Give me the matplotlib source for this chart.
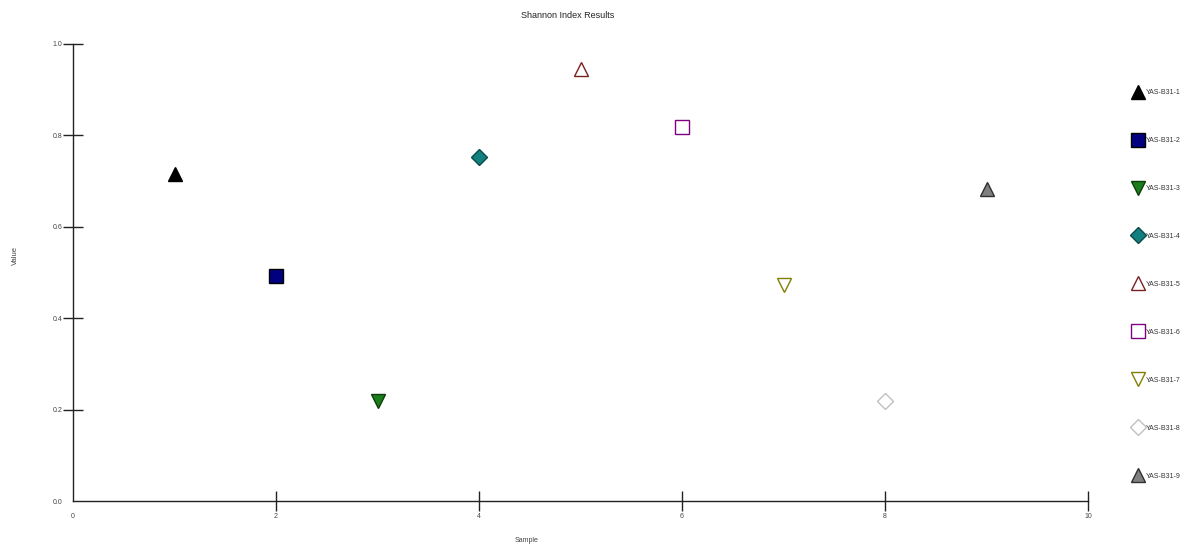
import matplotlib
matplotlib.use("Agg")
import matplotlib.pyplot as plt

plt.rcParams['font.family'] = ['Liberation Sans', 'DejaVu Sans']

samples = ["YAS-B31-1", "YAS-B31-2", "YAS-B31-3", "YAS-B31-4", "YAS-B31-5",
           "YAS-B31-6", "YAS-B31-7", "YAS-B31-8", "YAS-B31-9"]
sample_index = [1, 2, 3, 4, 5, 6, 7, 8, 9]
shannon = [0.715, 0.492, 0.219, 0.753, 0.945, 0.818, 0.473, 0.219, 0.683]

markers = ['^', 's', 'v', 'D', '^', 's', 'v', 'D', '^']
face_colors = ['#000000', '#000080', '#1a7f1a', '#138080', 'white',
               'white', 'white', 'white', '#808080']
edge_colors = ['#000000', '#000000', '#0d3d0d', '#0a4a4a', '#7a2020',
               '#800080', '#808000', '#c0c0c0', '#303030']
marker_sizes = [10, 10, 10, 8, 10, 10, 10, 8, 10]

fig = plt.figure(figsize=(11.92, 5.45), dpi=100)
ax = fig.add_axes([73 / 1192, 1 - 501 / 545, (1088 - 73) / 1192, (501 - 44) / 545])

for name, x, y, m, fc, ec, ms in zip(samples, sample_index, shannon, markers,
                                     face_colors, edge_colors, marker_sizes):
    ax.plot([x], [y], linestyle='none', marker=m, markersize=ms,
            markerfacecolor=fc, markeredgecolor=ec, markeredgewidth=1.0,
            label=name)

ax.set_xlim(0, 10)
ax.set_ylim(0, 1.0)
ax.set_xticks([0, 2, 4, 6, 8, 10])
ax.set_yticks([0.0, 0.2, 0.4, 0.6, 0.8, 1.0])
ax.set_yticklabels(['0.0', '0.2', '0.4', '0.6', '0.8', '1.0'])
for s in ('top', 'right'):
    ax.spines[s].set_visible(False)
for s in ('left', 'bottom'):
    ax.spines[s].set_linewidth(1.0)
    ax.spines[s].set_color('#222222')
ax.tick_params(axis='both', direction='inout', length=15, width=1.0,
               color='#222222', labelsize=5, labelcolor='#444444')
ax.tick_params(axis='x', pad=1)
ax.tick_params(axis='y', pad=0)

# no tick marks at the origin, only the labels
for tick in (ax.xaxis.get_major_ticks()[0], ax.yaxis.get_major_ticks()[0]):
    tick.tick1line.set_visible(False)

fig.text(568 / 1192, 1 - 15 / 545, "Shannon Index Results", ha='center',
         va='center', fontsize=6.5, color='#222222')
fig.text(15 / 1192, 1 - 255 / 545, "Value", ha='center', va='center',
         rotation=90, fontsize=5.5, color='#444444')
fig.text(527 / 1192, 1 - 541 / 545, "Sample", ha='center', va='center',
         fontsize=5, color='#444444')

ax.legend(loc='upper left', bbox_to_anchor=(1135 / 1192, 1 - 89 / 545),
          bbox_transform=fig.transFigure, frameon=False, fontsize=5,
          labelspacing=5.9, handlelength=1.0, handletextpad=0.6,
          borderpad=0, borderaxespad=0, markerscale=1.0, labelcolor='#333333')

fig.savefig("out.png", dpi=100, facecolor='white')
